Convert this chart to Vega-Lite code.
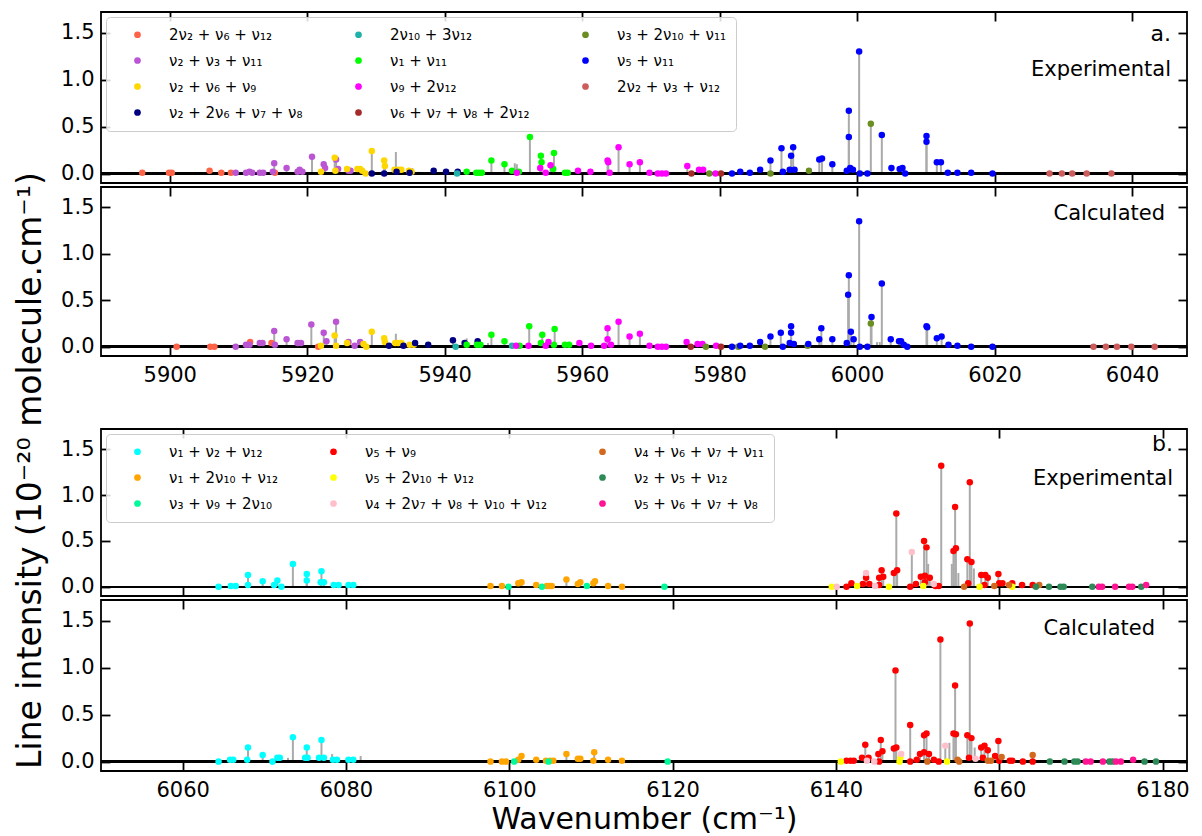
{
  "$schema": "https://vega.github.io/schema/vega-lite/v6.json",
  "background": "white",
  "padding": {"left": 14, "top": 10, "right": 7, "bottom": 2},
  "title": {
    "text": "Line intensity (10⁻²⁰ molecule.cm⁻¹)",
    "orient": "left",
    "anchor": "middle",
    "frame": "bounds",
    "font": "DejaVu Sans",
    "fontSize": 33,
    "fontWeight": "normal",
    "color": "black",
    "offset": 12,
    "dx": -48
  },
  "datasets": {
    "bands": [
      {"b": "a1", "label": "2ν₂ + ν₆ + ν₁₂"},
      {"b": "a2", "label": "ν₂ + ν₃ + ν₁₁"},
      {"b": "a3", "label": "ν₂ + ν₆ + ν₉"},
      {"b": "a4", "label": "ν₂ + 2ν₆ + ν₇ + ν₈"},
      {"b": "a5", "label": "2ν₁₀ + 3ν₁₂"},
      {"b": "a6", "label": "ν₁ + ν₁₁"},
      {"b": "a7", "label": "ν₉ + 2ν₁₂"},
      {"b": "a8", "label": "ν₆ + ν₇ + ν₈ + 2ν₁₂"},
      {"b": "a9", "label": "ν₃ + 2ν₁₀ + ν₁₁"},
      {"b": "a10", "label": "ν₅ + ν₁₁"},
      {"b": "a11", "label": "2ν₂ + ν₃ + ν₁₂"},
      {"b": "b1", "label": "ν₁ + ν₂ + ν₁₂"},
      {"b": "b2", "label": "ν₁ + 2ν₁₀ + ν₁₂"},
      {"b": "b3", "label": "ν₃ + ν₉ + 2ν₁₀"},
      {"b": "b4", "label": "ν₅ + ν₉"},
      {"b": "b5", "label": "ν₅ + 2ν₁₀ + ν₁₂"},
      {"b": "b6", "label": "ν₄ + 2ν₇ + ν₈ + ν₁₀ + ν₁₂"},
      {"b": "b7", "label": "ν₄ + ν₆ + ν₇ + ν₁₁"},
      {"b": "b8", "label": "ν₂ + ν₅ + ν₁₂"},
      {"b": "b9", "label": "ν₅ + ν₆ + ν₇ + ν₈"},
      {"b": "x", "label": "unassigned"}
    ],
    "lines": [
      {"p": "ae", "b": "x", "x": 5932.9, "y": 0.23},
      {"p": "ae", "b": "x", "x": 5935.3, "y": 0.06},
      {"p": "ae", "b": "x", "x": 5936.2, "y": 0.02},
      {"p": "ae", "b": "x", "x": 5950.2, "y": 0.11},
      {"p": "ae", "b": "x", "x": 5950.5, "y": 0.1},
      {"p": "ae", "b": "a1", "x": 5896.0, "y": 0.01},
      {"p": "ae", "b": "a1", "x": 5899.9, "y": 0.01},
      {"p": "ae", "b": "a1", "x": 5900.3, "y": 0.01},
      {"p": "ae", "b": "a1", "x": 5905.8, "y": 0.03},
      {"p": "ae", "b": "a1", "x": 5907.5, "y": 0.01},
      {"p": "ae", "b": "a1", "x": 5908.9, "y": 0.01},
      {"p": "ae", "b": "a1", "x": 5915.3, "y": 0.01},
      {"p": "ae", "b": "a2", "x": 5909.6, "y": 0.01},
      {"p": "ae", "b": "a2", "x": 5911.1, "y": 0.01},
      {"p": "ae", "b": "a2", "x": 5911.6, "y": 0.02},
      {"p": "ae", "b": "a2", "x": 5912.0, "y": 0.01},
      {"p": "ae", "b": "a2", "x": 5913.1, "y": 0.01},
      {"p": "ae", "b": "a2", "x": 5913.6, "y": 0.01},
      {"p": "ae", "b": "a2", "x": 5915.2, "y": 0.11},
      {"p": "ae", "b": "a2", "x": 5915.0, "y": 0.02},
      {"p": "ae", "b": "a2", "x": 5917.0, "y": 0.06},
      {"p": "ae", "b": "a2", "x": 5918.6, "y": 0.02},
      {"p": "ae", "b": "a2", "x": 5918.9, "y": 0.04},
      {"p": "ae", "b": "a2", "x": 5919.3, "y": 0.02},
      {"p": "ae", "b": "a2", "x": 5920.7, "y": 0.18},
      {"p": "ae", "b": "a2", "x": 5922.4, "y": 0.1},
      {"p": "ae", "b": "a2", "x": 5922.6, "y": 0.06},
      {"p": "ae", "b": "a2", "x": 5924.2, "y": 0.15},
      {"p": "ae", "b": "a2", "x": 5924.5, "y": 0.05},
      {"p": "ae", "b": "a2", "x": 5926.0, "y": 0.03},
      {"p": "ae", "b": "a2", "x": 5926.3, "y": 0.03},
      {"p": "ae", "b": "a3", "x": 5922.0, "y": 0.02},
      {"p": "ae", "b": "a3", "x": 5924.0, "y": 0.17},
      {"p": "ae", "b": "a3", "x": 5924.1, "y": 0.03},
      {"p": "ae", "b": "a3", "x": 5925.8, "y": 0.05},
      {"p": "ae", "b": "a3", "x": 5927.3, "y": 0.05},
      {"p": "ae", "b": "a3", "x": 5927.7, "y": 0.05},
      {"p": "ae", "b": "a3", "x": 5928.0, "y": 0.03},
      {"p": "ae", "b": "a3", "x": 5928.5, "y": 0.0},
      {"p": "ae", "b": "a3", "x": 5929.4, "y": 0.24},
      {"p": "ae", "b": "a3", "x": 5931.2, "y": 0.14},
      {"p": "ae", "b": "a3", "x": 5931.3, "y": 0.08},
      {"p": "ae", "b": "a3", "x": 5932.7, "y": 0.04},
      {"p": "ae", "b": "a3", "x": 5933.3, "y": 0.04},
      {"p": "ae", "b": "a3", "x": 5933.7, "y": 0.04},
      {"p": "ae", "b": "a3", "x": 5934.8, "y": 0.03},
      {"p": "ae", "b": "a3", "x": 5935.2, "y": 0.02},
      {"p": "ae", "b": "a4", "x": 5929.4, "y": 0.0},
      {"p": "ae", "b": "a4", "x": 5931.2, "y": 0.0},
      {"p": "ae", "b": "a4", "x": 5933.0, "y": 0.02},
      {"p": "ae", "b": "a4", "x": 5934.9, "y": 0.01},
      {"p": "ae", "b": "a4", "x": 5938.4, "y": 0.03},
      {"p": "ae", "b": "a4", "x": 5940.2, "y": 0.02},
      {"p": "ae", "b": "a4", "x": 5941.9, "y": 0.02},
      {"p": "ae", "b": "a5", "x": 5941.8, "y": 0.0},
      {"p": "ae", "b": "a6", "x": 5943.2, "y": 0.02},
      {"p": "ae", "b": "a6", "x": 5944.6, "y": 0.01},
      {"p": "ae", "b": "a6", "x": 5945.0, "y": 0.01},
      {"p": "ae", "b": "a6", "x": 5945.4, "y": 0.01},
      {"p": "ae", "b": "a6", "x": 5946.8, "y": 0.14},
      {"p": "ae", "b": "a6", "x": 5948.7, "y": 0.1},
      {"p": "ae", "b": "a6", "x": 5949.8, "y": 0.03},
      {"p": "ae", "b": "a6", "x": 5950.8, "y": 0.02},
      {"p": "ae", "b": "a6", "x": 5952.4, "y": 0.39},
      {"p": "ae", "b": "a6", "x": 5954.0, "y": 0.19},
      {"p": "ae", "b": "a6", "x": 5954.1, "y": 0.12},
      {"p": "ae", "b": "a6", "x": 5955.9, "y": 0.22},
      {"p": "ae", "b": "a6", "x": 5955.8, "y": 0.05},
      {"p": "ae", "b": "a6", "x": 5957.5, "y": 0.01},
      {"p": "ae", "b": "a6", "x": 5957.9, "y": 0.01},
      {"p": "ae", "b": "a7", "x": 5950.5, "y": 0.01},
      {"p": "ae", "b": "a7", "x": 5953.9, "y": 0.06},
      {"p": "ae", "b": "a7", "x": 5954.7, "y": 0.01},
      {"p": "ae", "b": "a7", "x": 5955.4, "y": 0.09},
      {"p": "ae", "b": "a7", "x": 5959.4, "y": 0.03},
      {"p": "ae", "b": "a7", "x": 5961.2, "y": 0.02},
      {"p": "ae", "b": "a7", "x": 5963.7, "y": 0.14},
      {"p": "ae", "b": "a7", "x": 5963.8, "y": 0.12},
      {"p": "ae", "b": "a7", "x": 5964.0, "y": 0.01},
      {"p": "ae", "b": "a7", "x": 5965.3, "y": 0.28},
      {"p": "ae", "b": "a7", "x": 5966.9, "y": 0.1},
      {"p": "ae", "b": "a7", "x": 5968.4, "y": 0.12},
      {"p": "ae", "b": "a7", "x": 5969.8, "y": 0.01},
      {"p": "ae", "b": "a7", "x": 5971.0, "y": 0.0},
      {"p": "ae", "b": "a7", "x": 5971.6, "y": 0.0},
      {"p": "ae", "b": "a7", "x": 5972.2, "y": 0.0},
      {"p": "ae", "b": "a7", "x": 5975.3, "y": 0.08},
      {"p": "ae", "b": "a7", "x": 5977.0, "y": 0.04},
      {"p": "ae", "b": "a7", "x": 5977.6, "y": 0.04},
      {"p": "ae", "b": "a7", "x": 5979.4, "y": 0.0},
      {"p": "ae", "b": "a8", "x": 5975.9, "y": 0.0},
      {"p": "ae", "b": "a8", "x": 5980.2, "y": 0.0},
      {"p": "ae", "b": "a9", "x": 5978.5, "y": 0.0},
      {"p": "ae", "b": "a9", "x": 5987.4, "y": 0.0},
      {"p": "ae", "b": "a9", "x": 5993.0, "y": 0.03},
      {"p": "ae", "b": "a9", "x": 6002.0, "y": 0.53},
      {"p": "ae", "b": "a10", "x": 5981.8, "y": 0.0},
      {"p": "ae", "b": "a10", "x": 5983.0, "y": 0.02},
      {"p": "ae", "b": "a10", "x": 5984.4, "y": 0.01},
      {"p": "ae", "b": "a10", "x": 5985.9, "y": 0.04},
      {"p": "ae", "b": "a10", "x": 5987.4, "y": 0.14},
      {"p": "ae", "b": "a10", "x": 5989.0, "y": 0.27},
      {"p": "ae", "b": "a10", "x": 5989.2, "y": 0.02},
      {"p": "ae", "b": "a10", "x": 5990.4, "y": 0.19},
      {"p": "ae", "b": "a10", "x": 5990.7, "y": 0.28},
      {"p": "ae", "b": "a10", "x": 5990.2, "y": 0.04},
      {"p": "ae", "b": "a10", "x": 5990.9, "y": 0.04},
      {"p": "ae", "b": "a10", "x": 5994.5, "y": 0.15},
      {"p": "ae", "b": "a10", "x": 5994.9, "y": 0.16},
      {"p": "ae", "b": "a10", "x": 5996.4, "y": 0.1},
      {"p": "ae", "b": "a10", "x": 5998.5, "y": 0.03},
      {"p": "ae", "b": "a10", "x": 5998.8, "y": 0.67},
      {"p": "ae", "b": "a10", "x": 5998.8, "y": 0.39},
      {"p": "ae", "b": "a10", "x": 5999.0, "y": 0.06},
      {"p": "ae", "b": "a10", "x": 5999.4, "y": 0.04},
      {"p": "ae", "b": "a10", "x": 6000.3, "y": 1.3},
      {"p": "ae", "b": "a10", "x": 6000.4, "y": 0.0},
      {"p": "ae", "b": "a10", "x": 6001.5, "y": 0.0},
      {"p": "ae", "b": "a10", "x": 6003.6, "y": 0.41},
      {"p": "ae", "b": "a10", "x": 6005.0, "y": 0.06},
      {"p": "ae", "b": "a10", "x": 6006.2, "y": 0.05},
      {"p": "ae", "b": "a10", "x": 6006.6, "y": 0.06},
      {"p": "ae", "b": "a10", "x": 6007.0, "y": 0.0},
      {"p": "ae", "b": "a10", "x": 6010.1, "y": 0.4},
      {"p": "ae", "b": "a10", "x": 6010.1, "y": 0.34},
      {"p": "ae", "b": "a10", "x": 6011.6, "y": 0.12},
      {"p": "ae", "b": "a10", "x": 6012.2, "y": 0.12},
      {"p": "ae", "b": "a10", "x": 6013.2, "y": 0.01},
      {"p": "ae", "b": "a10", "x": 6014.6, "y": 0.01},
      {"p": "ae", "b": "a10", "x": 6016.6, "y": 0.01},
      {"p": "ae", "b": "a10", "x": 6019.7, "y": 0.0},
      {"p": "ae", "b": "a11", "x": 6028.0, "y": 0.0},
      {"p": "ae", "b": "a11", "x": 6029.8, "y": 0.0},
      {"p": "ae", "b": "a11", "x": 6031.3, "y": 0.0},
      {"p": "ae", "b": "a11", "x": 6033.4, "y": 0.0},
      {"p": "ae", "b": "a11", "x": 6037.0, "y": 0.0},

      {"p": "ac", "b": "x", "x": 5932.9, "y": 0.14},
      {"p": "ac", "b": "x", "x": 5943.2, "y": 0.09},
      {"p": "ac", "b": "x", "x": 5946.3, "y": 0.04},
      {"p": "ac", "b": "x", "x": 6002.9, "y": 0.05},
      {"p": "ac", "b": "x", "x": 6003.3, "y": 0.05},
      {"p": "ac", "b": "a1", "x": 5901.0, "y": 0.0},
      {"p": "ac", "b": "a1", "x": 5905.9, "y": 0.0},
      {"p": "ac", "b": "a1", "x": 5906.5, "y": 0.0},
      {"p": "ac", "b": "a1", "x": 5911.7, "y": 0.05},
      {"p": "ac", "b": "a1", "x": 5914.8, "y": 0.04},
      {"p": "ac", "b": "a1", "x": 5921.6, "y": 0.0},
      {"p": "ac", "b": "a2", "x": 5909.6, "y": 0.0},
      {"p": "ac", "b": "a2", "x": 5911.1, "y": 0.02},
      {"p": "ac", "b": "a2", "x": 5911.6, "y": 0.02},
      {"p": "ac", "b": "a2", "x": 5913.1, "y": 0.04},
      {"p": "ac", "b": "a2", "x": 5913.5, "y": 0.04},
      {"p": "ac", "b": "a2", "x": 5915.2, "y": 0.17},
      {"p": "ac", "b": "a2", "x": 5915.3, "y": 0.02},
      {"p": "ac", "b": "a2", "x": 5917.0, "y": 0.08},
      {"p": "ac", "b": "a2", "x": 5918.6, "y": 0.04},
      {"p": "ac", "b": "a2", "x": 5919.1, "y": 0.04},
      {"p": "ac", "b": "a2", "x": 5920.6, "y": 0.24},
      {"p": "ac", "b": "a2", "x": 5922.4, "y": 0.15},
      {"p": "ac", "b": "a2", "x": 5922.8, "y": 0.06},
      {"p": "ac", "b": "a2", "x": 5924.2, "y": 0.27},
      {"p": "ac", "b": "a2", "x": 5926.0, "y": 0.05},
      {"p": "ac", "b": "a2", "x": 5926.9, "y": 0.01},
      {"p": "ac", "b": "a2", "x": 5927.7, "y": 0.05},
      {"p": "ac", "b": "a3", "x": 5922.0, "y": 0.01},
      {"p": "ac", "b": "a3", "x": 5924.0, "y": 0.12},
      {"p": "ac", "b": "a3", "x": 5924.2, "y": 0.01},
      {"p": "ac", "b": "a3", "x": 5925.8, "y": 0.04},
      {"p": "ac", "b": "a3", "x": 5928.2, "y": 0.03},
      {"p": "ac", "b": "a3", "x": 5928.6, "y": 0.0},
      {"p": "ac", "b": "a3", "x": 5929.4, "y": 0.16},
      {"p": "ac", "b": "a3", "x": 5931.2, "y": 0.09},
      {"p": "ac", "b": "a3", "x": 5931.3, "y": 0.05},
      {"p": "ac", "b": "a3", "x": 5932.8, "y": 0.04},
      {"p": "ac", "b": "a3", "x": 5933.2, "y": 0.04},
      {"p": "ac", "b": "a3", "x": 5933.7, "y": 0.04},
      {"p": "ac", "b": "a3", "x": 5934.9, "y": 0.02},
      {"p": "ac", "b": "a3", "x": 5935.5, "y": 0.02},
      {"p": "ac", "b": "a4", "x": 5931.9, "y": 0.01},
      {"p": "ac", "b": "a4", "x": 5934.0, "y": 0.01},
      {"p": "ac", "b": "a4", "x": 5935.7, "y": 0.04},
      {"p": "ac", "b": "a4", "x": 5937.6, "y": 0.02},
      {"p": "ac", "b": "a4", "x": 5941.2, "y": 0.07},
      {"p": "ac", "b": "a4", "x": 5942.9, "y": 0.04},
      {"p": "ac", "b": "a4", "x": 5944.8, "y": 0.06},
      {"p": "ac", "b": "a5", "x": 5941.6, "y": 0.0},
      {"p": "ac", "b": "a5", "x": 5949.8, "y": 0.01},
      {"p": "ac", "b": "a6", "x": 5943.2, "y": 0.02},
      {"p": "ac", "b": "a6", "x": 5944.7, "y": 0.02},
      {"p": "ac", "b": "a6", "x": 5945.2, "y": 0.02},
      {"p": "ac", "b": "a6", "x": 5946.8, "y": 0.13},
      {"p": "ac", "b": "a6", "x": 5948.7, "y": 0.06},
      {"p": "ac", "b": "a6", "x": 5950.9, "y": 0.01},
      {"p": "ac", "b": "a6", "x": 5952.3, "y": 0.22},
      {"p": "ac", "b": "a6", "x": 5954.2, "y": 0.13},
      {"p": "ac", "b": "a6", "x": 5954.0, "y": 0.04},
      {"p": "ac", "b": "a6", "x": 5956.0, "y": 0.19},
      {"p": "ac", "b": "a6", "x": 5955.9, "y": 0.02},
      {"p": "ac", "b": "a6", "x": 5957.5, "y": 0.02},
      {"p": "ac", "b": "a6", "x": 5958.1, "y": 0.02},
      {"p": "ac", "b": "a7", "x": 5950.4, "y": 0.01},
      {"p": "ac", "b": "a7", "x": 5952.2, "y": 0.01},
      {"p": "ac", "b": "a7", "x": 5954.7, "y": 0.01},
      {"p": "ac", "b": "a7", "x": 5955.1, "y": 0.05},
      {"p": "ac", "b": "a7", "x": 5959.6, "y": 0.04},
      {"p": "ac", "b": "a7", "x": 5961.3, "y": 0.01},
      {"p": "ac", "b": "a7", "x": 5963.2, "y": 0.01},
      {"p": "ac", "b": "a7", "x": 5963.7, "y": 0.2},
      {"p": "ac", "b": "a7", "x": 5963.7, "y": 0.08},
      {"p": "ac", "b": "a7", "x": 5964.2, "y": 0.02},
      {"p": "ac", "b": "a7", "x": 5965.3, "y": 0.27},
      {"p": "ac", "b": "a7", "x": 5966.9, "y": 0.11},
      {"p": "ac", "b": "a7", "x": 5968.4, "y": 0.14},
      {"p": "ac", "b": "a7", "x": 5969.8, "y": 0.01},
      {"p": "ac", "b": "a7", "x": 5971.0, "y": 0.0},
      {"p": "ac", "b": "a7", "x": 5971.6, "y": 0.0},
      {"p": "ac", "b": "a7", "x": 5972.2, "y": 0.0},
      {"p": "ac", "b": "a7", "x": 5975.2, "y": 0.05},
      {"p": "ac", "b": "a7", "x": 5976.8, "y": 0.03},
      {"p": "ac", "b": "a7", "x": 5977.5, "y": 0.03},
      {"p": "ac", "b": "a7", "x": 5979.5, "y": 0.01},
      {"p": "ac", "b": "a8", "x": 5975.8, "y": 0.0},
      {"p": "ac", "b": "a8", "x": 5980.2, "y": 0.0},
      {"p": "ac", "b": "a9", "x": 5978.0, "y": 0.0},
      {"p": "ac", "b": "a9", "x": 5982.7, "y": 0.0},
      {"p": "ac", "b": "a9", "x": 5986.6, "y": 0.0},
      {"p": "ac", "b": "a9", "x": 5992.8, "y": 0.01},
      {"p": "ac", "b": "a9", "x": 6002.0, "y": 0.25},
      {"p": "ac", "b": "a10", "x": 5981.8, "y": 0.0},
      {"p": "ac", "b": "a10", "x": 5983.0, "y": 0.01},
      {"p": "ac", "b": "a10", "x": 5984.4, "y": 0.01},
      {"p": "ac", "b": "a10", "x": 5985.9, "y": 0.05},
      {"p": "ac", "b": "a10", "x": 5987.4, "y": 0.11},
      {"p": "ac", "b": "a10", "x": 5988.9, "y": 0.15},
      {"p": "ac", "b": "a10", "x": 5989.2, "y": 0.0},
      {"p": "ac", "b": "a10", "x": 5990.4, "y": 0.22},
      {"p": "ac", "b": "a10", "x": 5990.4, "y": 0.15},
      {"p": "ac", "b": "a10", "x": 5990.2, "y": 0.04},
      {"p": "ac", "b": "a10", "x": 5990.8, "y": 0.03},
      {"p": "ac", "b": "a10", "x": 5992.9, "y": 0.03},
      {"p": "ac", "b": "a10", "x": 5994.5, "y": 0.08},
      {"p": "ac", "b": "a10", "x": 5994.8, "y": 0.2},
      {"p": "ac", "b": "a10", "x": 5996.4, "y": 0.08},
      {"p": "ac", "b": "a10", "x": 5998.5, "y": 0.04},
      {"p": "ac", "b": "a10", "x": 5998.8, "y": 0.77},
      {"p": "ac", "b": "a10", "x": 5998.7, "y": 0.56},
      {"p": "ac", "b": "a10", "x": 5999.1, "y": 0.16},
      {"p": "ac", "b": "a10", "x": 5999.5, "y": 0.08},
      {"p": "ac", "b": "a10", "x": 6000.3, "y": 1.35},
      {"p": "ac", "b": "a10", "x": 6000.4, "y": 0.0},
      {"p": "ac", "b": "a10", "x": 6001.5, "y": 0.0},
      {"p": "ac", "b": "a10", "x": 6002.1, "y": 0.32},
      {"p": "ac", "b": "a10", "x": 6003.6, "y": 0.68},
      {"p": "ac", "b": "a10", "x": 6004.9, "y": 0.08},
      {"p": "ac", "b": "a10", "x": 6006.1, "y": 0.06},
      {"p": "ac", "b": "a10", "x": 6006.4, "y": 0.06},
      {"p": "ac", "b": "a10", "x": 6006.8, "y": 0.02},
      {"p": "ac", "b": "a10", "x": 6007.3, "y": 0.0},
      {"p": "ac", "b": "a10", "x": 6010.1, "y": 0.22},
      {"p": "ac", "b": "a10", "x": 6010.2, "y": 0.21},
      {"p": "ac", "b": "a10", "x": 6011.6, "y": 0.09},
      {"p": "ac", "b": "a10", "x": 6012.3, "y": 0.11},
      {"p": "ac", "b": "a10", "x": 6013.3, "y": 0.02},
      {"p": "ac", "b": "a10", "x": 6014.6, "y": 0.01},
      {"p": "ac", "b": "a10", "x": 6016.6, "y": 0.0},
      {"p": "ac", "b": "a10", "x": 6019.7, "y": 0.0},
      {"p": "ac", "b": "a11", "x": 6034.4, "y": 0.0},
      {"p": "ac", "b": "a11", "x": 6036.2, "y": 0.0},
      {"p": "ac", "b": "a11", "x": 6037.8, "y": 0.0},
      {"p": "ac", "b": "a11", "x": 6039.9, "y": 0.0},
      {"p": "ac", "b": "a11", "x": 6043.3, "y": 0.0},

      {"p": "be", "b": "x", "x": 6151.3, "y": 0.25},
      {"p": "be", "b": "x", "x": 6154.2, "y": 0.25},
      {"p": "be", "b": "x", "x": 6155.0, "y": 0.15},
      {"p": "be", "b": "x", "x": 6156.9, "y": 0.2},
      {"p": "be", "b": "b1", "x": 6064.4, "y": 0.0},
      {"p": "be", "b": "b1", "x": 6065.9, "y": 0.01},
      {"p": "be", "b": "b1", "x": 6066.5, "y": 0.01},
      {"p": "be", "b": "b1", "x": 6068.0, "y": 0.13},
      {"p": "be", "b": "b1", "x": 6068.0, "y": 0.02},
      {"p": "be", "b": "b1", "x": 6069.8, "y": 0.06},
      {"p": "be", "b": "b1", "x": 6071.2, "y": 0.02},
      {"p": "be", "b": "b1", "x": 6071.6, "y": 0.07},
      {"p": "be", "b": "b1", "x": 6072.1, "y": 0.0},
      {"p": "be", "b": "b1", "x": 6073.5, "y": 0.25},
      {"p": "be", "b": "b1", "x": 6075.2, "y": 0.14},
      {"p": "be", "b": "b1", "x": 6075.2, "y": 0.07},
      {"p": "be", "b": "b1", "x": 6077.0, "y": 0.17},
      {"p": "be", "b": "b1", "x": 6076.9, "y": 0.05},
      {"p": "be", "b": "b1", "x": 6077.3, "y": 0.05},
      {"p": "be", "b": "b1", "x": 6078.5, "y": 0.02},
      {"p": "be", "b": "b1", "x": 6079.1, "y": 0.02},
      {"p": "be", "b": "b1", "x": 6080.3, "y": 0.02},
      {"p": "be", "b": "b1", "x": 6080.9, "y": 0.02},
      {"p": "be", "b": "b2", "x": 6097.7, "y": 0.01},
      {"p": "be", "b": "b2", "x": 6099.1, "y": 0.01},
      {"p": "be", "b": "b2", "x": 6101.1, "y": 0.04},
      {"p": "be", "b": "b2", "x": 6101.5, "y": 0.05},
      {"p": "be", "b": "b2", "x": 6103.3, "y": 0.02},
      {"p": "be", "b": "b2", "x": 6104.6, "y": 0.01},
      {"p": "be", "b": "b2", "x": 6104.9, "y": 0.01},
      {"p": "be", "b": "b2", "x": 6105.2, "y": 0.01},
      {"p": "be", "b": "b2", "x": 6107.0, "y": 0.08},
      {"p": "be", "b": "b2", "x": 6108.4, "y": 0.03},
      {"p": "be", "b": "b2", "x": 6108.7, "y": 0.05},
      {"p": "be", "b": "b2", "x": 6110.3, "y": 0.04},
      {"p": "be", "b": "b2", "x": 6110.5, "y": 0.06},
      {"p": "be", "b": "b2", "x": 6112.1, "y": 0.01},
      {"p": "be", "b": "b2", "x": 6113.8, "y": 0.0},
      {"p": "be", "b": "b3", "x": 6099.9, "y": 0.0},
      {"p": "be", "b": "b3", "x": 6104.0, "y": 0.0},
      {"p": "be", "b": "b3", "x": 6109.5, "y": 0.01},
      {"p": "be", "b": "b3", "x": 6119.0, "y": 0.0},
      {"p": "be", "b": "b4", "x": 6141.3, "y": 0.0},
      {"p": "be", "b": "b4", "x": 6141.9, "y": 0.04},
      {"p": "be", "b": "b4", "x": 6143.3, "y": 0.03},
      {"p": "be", "b": "b4", "x": 6143.7, "y": 0.1},
      {"p": "be", "b": "b4", "x": 6144.1, "y": 0.03},
      {"p": "be", "b": "b4", "x": 6145.3, "y": 0.02},
      {"p": "be", "b": "b4", "x": 6145.3, "y": 0.1},
      {"p": "be", "b": "b4", "x": 6145.6, "y": 0.18},
      {"p": "be", "b": "b4", "x": 6145.8, "y": 0.11},
      {"p": "be", "b": "b4", "x": 6147.1, "y": 0.15},
      {"p": "be", "b": "b4", "x": 6147.5, "y": 0.18},
      {"p": "be", "b": "b4", "x": 6147.4, "y": 0.8},
      {"p": "be", "b": "b4", "x": 6149.1, "y": 0.0},
      {"p": "be", "b": "b4", "x": 6149.8, "y": 0.03},
      {"p": "be", "b": "b4", "x": 6150.4, "y": 0.11},
      {"p": "be", "b": "b4", "x": 6150.8, "y": 0.5},
      {"p": "be", "b": "b4", "x": 6151.1, "y": 0.43},
      {"p": "be", "b": "b4", "x": 6150.9, "y": 0.12},
      {"p": "be", "b": "b4", "x": 6150.9, "y": 0.05},
      {"p": "be", "b": "b4", "x": 6151.5, "y": 0.1},
      {"p": "be", "b": "b4", "x": 6152.2, "y": 0.01},
      {"p": "be", "b": "b4", "x": 6152.6, "y": 0.01},
      {"p": "be", "b": "b4", "x": 6152.9, "y": 1.32},
      {"p": "be", "b": "b4", "x": 6154.4, "y": 0.39},
      {"p": "be", "b": "b4", "x": 6154.7, "y": 0.42},
      {"p": "be", "b": "b4", "x": 6154.6, "y": 0.87},
      {"p": "be", "b": "b4", "x": 6156.1, "y": 0.3},
      {"p": "be", "b": "b4", "x": 6156.6, "y": 0.27},
      {"p": "be", "b": "b4", "x": 6156.4, "y": 1.14},
      {"p": "be", "b": "b4", "x": 6156.2, "y": 0.04},
      {"p": "be", "b": "b4", "x": 6157.8, "y": 0.13},
      {"p": "be", "b": "b4", "x": 6158.3, "y": 0.13},
      {"p": "be", "b": "b4", "x": 6158.2, "y": 0.02},
      {"p": "be", "b": "b4", "x": 6158.6, "y": 0.1},
      {"p": "be", "b": "b4", "x": 6159.9, "y": 0.14},
      {"p": "be", "b": "b4", "x": 6160.0, "y": 0.04},
      {"p": "be", "b": "b4", "x": 6160.4, "y": 0.04},
      {"p": "be", "b": "b4", "x": 6161.6, "y": 0.04},
      {"p": "be", "b": "b4", "x": 6162.8, "y": 0.02},
      {"p": "be", "b": "b4", "x": 6164.1, "y": 0.02},
      {"p": "be", "b": "b5", "x": 6139.5, "y": 0.0},
      {"p": "be", "b": "b5", "x": 6142.6, "y": 0.01},
      {"p": "be", "b": "b5", "x": 6146.5, "y": 0.0},
      {"p": "be", "b": "b5", "x": 6150.7, "y": 0.01},
      {"p": "be", "b": "b5", "x": 6157.6, "y": 0.0},
      {"p": "be", "b": "b5", "x": 6161.6, "y": 0.0},
      {"p": "be", "b": "b6", "x": 6140.1, "y": 0.0},
      {"p": "be", "b": "b6", "x": 6143.7, "y": 0.15},
      {"p": "be", "b": "b6", "x": 6144.8, "y": 0.01},
      {"p": "be", "b": "b6", "x": 6149.3, "y": 0.38},
      {"p": "be", "b": "b6", "x": 6152.0, "y": 0.03},
      {"p": "be", "b": "b7", "x": 6155.7, "y": 0.0},
      {"p": "be", "b": "b7", "x": 6159.4, "y": 0.01},
      {"p": "be", "b": "b7", "x": 6161.2, "y": 0.02},
      {"p": "be", "b": "b7", "x": 6164.9, "y": 0.02},
      {"p": "be", "b": "b8", "x": 6164.5, "y": 0.0},
      {"p": "be", "b": "b8", "x": 6166.1, "y": 0.0},
      {"p": "be", "b": "b8", "x": 6167.5, "y": 0.0},
      {"p": "be", "b": "b8", "x": 6167.9, "y": 0.0},
      {"p": "be", "b": "b8", "x": 6171.4, "y": 0.0},
      {"p": "be", "b": "b8", "x": 6177.4, "y": 0.0},
      {"p": "be", "b": "b9", "x": 6172.2, "y": 0.0},
      {"p": "be", "b": "b9", "x": 6172.6, "y": 0.0},
      {"p": "be", "b": "b9", "x": 6174.2, "y": 0.0},
      {"p": "be", "b": "b9", "x": 6175.9, "y": 0.0},
      {"p": "be", "b": "b9", "x": 6176.3, "y": 0.0},
      {"p": "be", "b": "b9", "x": 6178.0, "y": 0.02},

      {"p": "bc", "b": "x", "x": 6072.9, "y": 0.04},
      {"p": "bc", "b": "x", "x": 6078.3, "y": 0.08},
      {"p": "bc", "b": "x", "x": 6081.8, "y": 0.06},
      {"p": "bc", "b": "x", "x": 6083.5, "y": 0.01},
      {"p": "bc", "b": "x", "x": 6085.0, "y": 0.01},
      {"p": "bc", "b": "x", "x": 6153.9, "y": 0.2},
      {"p": "bc", "b": "x", "x": 6157.0, "y": 0.15},
      {"p": "bc", "b": "b1", "x": 6064.4, "y": 0.0},
      {"p": "bc", "b": "b1", "x": 6065.8, "y": 0.02},
      {"p": "bc", "b": "b1", "x": 6066.2, "y": 0.02},
      {"p": "bc", "b": "b1", "x": 6067.9, "y": 0.02},
      {"p": "bc", "b": "b1", "x": 6068.0, "y": 0.15},
      {"p": "bc", "b": "b1", "x": 6069.8, "y": 0.07},
      {"p": "bc", "b": "b1", "x": 6071.0, "y": 0.0},
      {"p": "bc", "b": "b1", "x": 6071.6, "y": 0.04},
      {"p": "bc", "b": "b1", "x": 6071.9, "y": 0.04},
      {"p": "bc", "b": "b1", "x": 6073.5, "y": 0.26},
      {"p": "bc", "b": "b1", "x": 6075.0, "y": 0.04},
      {"p": "bc", "b": "b1", "x": 6075.3, "y": 0.04},
      {"p": "bc", "b": "b1", "x": 6075.2, "y": 0.15},
      {"p": "bc", "b": "b1", "x": 6076.7, "y": 0.04},
      {"p": "bc", "b": "b1", "x": 6077.3, "y": 0.04},
      {"p": "bc", "b": "b1", "x": 6077.0, "y": 0.23},
      {"p": "bc", "b": "b1", "x": 6078.4, "y": 0.02},
      {"p": "bc", "b": "b1", "x": 6078.9, "y": 0.02},
      {"p": "bc", "b": "b1", "x": 6080.3, "y": 0.02},
      {"p": "bc", "b": "b1", "x": 6080.9, "y": 0.02},
      {"p": "bc", "b": "b2", "x": 6097.7, "y": 0.0},
      {"p": "bc", "b": "b2", "x": 6099.1, "y": 0.0},
      {"p": "bc", "b": "b2", "x": 6099.6, "y": 0.0},
      {"p": "bc", "b": "b2", "x": 6101.1, "y": 0.02},
      {"p": "bc", "b": "b2", "x": 6101.5, "y": 0.06},
      {"p": "bc", "b": "b2", "x": 6103.3, "y": 0.02},
      {"p": "bc", "b": "b2", "x": 6104.5, "y": 0.01},
      {"p": "bc", "b": "b2", "x": 6105.0, "y": 0.01},
      {"p": "bc", "b": "b2", "x": 6105.4, "y": 0.01},
      {"p": "bc", "b": "b2", "x": 6107.0, "y": 0.08},
      {"p": "bc", "b": "b2", "x": 6108.4, "y": 0.03},
      {"p": "bc", "b": "b2", "x": 6108.7, "y": 0.03},
      {"p": "bc", "b": "b2", "x": 6110.3, "y": 0.01},
      {"p": "bc", "b": "b2", "x": 6110.4, "y": 0.1},
      {"p": "bc", "b": "b2", "x": 6112.1, "y": 0.02},
      {"p": "bc", "b": "b2", "x": 6113.8, "y": 0.01},
      {"p": "bc", "b": "b3", "x": 6100.6, "y": 0.0},
      {"p": "bc", "b": "b3", "x": 6104.8, "y": 0.0},
      {"p": "bc", "b": "b3", "x": 6119.4, "y": 0.0},
      {"p": "bc", "b": "b4", "x": 6141.3, "y": 0.01},
      {"p": "bc", "b": "b4", "x": 6141.8, "y": 0.01},
      {"p": "bc", "b": "b4", "x": 6142.2, "y": 0.01},
      {"p": "bc", "b": "b4", "x": 6143.2, "y": 0.04},
      {"p": "bc", "b": "b4", "x": 6143.6, "y": 0.18},
      {"p": "bc", "b": "b4", "x": 6144.0, "y": 0.04},
      {"p": "bc", "b": "b4", "x": 6145.3, "y": 0.0},
      {"p": "bc", "b": "b4", "x": 6145.2, "y": 0.08},
      {"p": "bc", "b": "b4", "x": 6145.5, "y": 0.23},
      {"p": "bc", "b": "b4", "x": 6145.7, "y": 0.11},
      {"p": "bc", "b": "b4", "x": 6147.1, "y": 0.14},
      {"p": "bc", "b": "b4", "x": 6147.4, "y": 0.15},
      {"p": "bc", "b": "b4", "x": 6147.3, "y": 0.97},
      {"p": "bc", "b": "b4", "x": 6149.1, "y": 0.0},
      {"p": "bc", "b": "b4", "x": 6149.1, "y": 0.39},
      {"p": "bc", "b": "b4", "x": 6149.9, "y": 0.02},
      {"p": "bc", "b": "b4", "x": 6150.3, "y": 0.08},
      {"p": "bc", "b": "b4", "x": 6150.8, "y": 0.1},
      {"p": "bc", "b": "b4", "x": 6150.8, "y": 0.28},
      {"p": "bc", "b": "b4", "x": 6151.1, "y": 0.3},
      {"p": "bc", "b": "b4", "x": 6151.4, "y": 0.08},
      {"p": "bc", "b": "b4", "x": 6152.0, "y": 0.02},
      {"p": "bc", "b": "b4", "x": 6152.6, "y": 0.0},
      {"p": "bc", "b": "b4", "x": 6152.8, "y": 1.3},
      {"p": "bc", "b": "b4", "x": 6154.4, "y": 0.3},
      {"p": "bc", "b": "b4", "x": 6154.7, "y": 0.29},
      {"p": "bc", "b": "b4", "x": 6154.6, "y": 0.81},
      {"p": "bc", "b": "b4", "x": 6156.1, "y": 0.28},
      {"p": "bc", "b": "b4", "x": 6156.6, "y": 0.25},
      {"p": "bc", "b": "b4", "x": 6156.4, "y": 1.47},
      {"p": "bc", "b": "b4", "x": 6156.3, "y": 0.04},
      {"p": "bc", "b": "b4", "x": 6157.8, "y": 0.15},
      {"p": "bc", "b": "b4", "x": 6158.2, "y": 0.17},
      {"p": "bc", "b": "b4", "x": 6158.6, "y": 0.12},
      {"p": "bc", "b": "b4", "x": 6158.0, "y": 0.04},
      {"p": "bc", "b": "b4", "x": 6159.5, "y": 0.06},
      {"p": "bc", "b": "b4", "x": 6159.9, "y": 0.22},
      {"p": "bc", "b": "b4", "x": 6160.0, "y": 0.01},
      {"p": "bc", "b": "b4", "x": 6161.3, "y": 0.01},
      {"p": "bc", "b": "b4", "x": 6161.6, "y": 0.01},
      {"p": "bc", "b": "b4", "x": 6162.9, "y": 0.0},
      {"p": "bc", "b": "b4", "x": 6164.1, "y": 0.0},
      {"p": "bc", "b": "b5", "x": 6140.6, "y": 0.0},
      {"p": "bc", "b": "b5", "x": 6147.8, "y": 0.0},
      {"p": "bc", "b": "b5", "x": 6147.9, "y": 0.04},
      {"p": "bc", "b": "b5", "x": 6153.6, "y": 0.0},
      {"p": "bc", "b": "b6", "x": 6143.8, "y": 0.01},
      {"p": "bc", "b": "b6", "x": 6144.7, "y": 0.0},
      {"p": "bc", "b": "b6", "x": 6148.0, "y": 0.08},
      {"p": "bc", "b": "b6", "x": 6153.4, "y": 0.17},
      {"p": "bc", "b": "b6", "x": 6157.1, "y": 0.03},
      {"p": "bc", "b": "b7", "x": 6151.2, "y": 0.0},
      {"p": "bc", "b": "b7", "x": 6154.9, "y": 0.02},
      {"p": "bc", "b": "b7", "x": 6155.1, "y": 0.0},
      {"p": "bc", "b": "b7", "x": 6158.6, "y": 0.01},
      {"p": "bc", "b": "b7", "x": 6159.0, "y": 0.01},
      {"p": "bc", "b": "b7", "x": 6160.3, "y": 0.05},
      {"p": "bc", "b": "b7", "x": 6164.1, "y": 0.07},
      {"p": "bc", "b": "b8", "x": 6166.2, "y": 0.0},
      {"p": "bc", "b": "b8", "x": 6168.0, "y": 0.0},
      {"p": "bc", "b": "b8", "x": 6169.2, "y": 0.0},
      {"p": "bc", "b": "b8", "x": 6169.6, "y": 0.0},
      {"p": "bc", "b": "b8", "x": 6173.5, "y": 0.0},
      {"p": "bc", "b": "b8", "x": 6173.9, "y": 0.0},
      {"p": "bc", "b": "b8", "x": 6177.8, "y": 0.0},
      {"p": "bc", "b": "b8", "x": 6179.2, "y": 0.0},
      {"p": "bc", "b": "b9", "x": 6170.6, "y": 0.0},
      {"p": "bc", "b": "b9", "x": 6171.2, "y": 0.0},
      {"p": "bc", "b": "b9", "x": 6172.7, "y": 0.0},
      {"p": "bc", "b": "b9", "x": 6174.3, "y": 0.0},
      {"p": "bc", "b": "b9", "x": 6174.9, "y": 0.0},
      {"p": "bc", "b": "b9", "x": 6176.4, "y": 0.02}
    ]
  },
  "data": {"name": "lines"},
  "spacing": 41,
  "resolve": {"scale": {"x": "independent", "y": "independent", "color": "independent"}},
  "vconcat": [
    {
      "spacing": 0,
      "resolve": {"scale": {"x": "independent", "y": "independent", "color": "independent"}},
      "vconcat": [
        {
          "width": 1086,
          "height": 171,
          "title": {"text": "a.", "subtitle": "Experimental", "anchor": "end", "frame": "group", "offset": -70, "dx": -16, "fontSize": 22, "subtitleFontSize": 21, "subtitlePadding": 13},
          "transform": [
            {"filter": "datum.p == 'ae'"},
            {"lookup": "b", "from": {"data": {"name": "bands"}, "key": "b", "fields": ["label"]}}
          ],
          "resolve": {"axis": {"x": "independent", "y": "independent"}},
          "layer": [
            {
              "mark": {"type": "rule", "color": "#aaaaaa", "strokeWidth": 2},
              "encoding": {
                "x": {"field": "x", "type": "quantitative", "scale": {"domain": [5890, 6048], "nice": false, "zero": false}, "axis": {"orient": "bottom", "values": [5900, 5920, 5940, 5960, 5980, 6000, 6020, 6040], "labels": false, "title": null}},
                "y": {"field": "y", "type": "quantitative", "scale": {"domain": [-0.1, 1.72], "nice": false}, "axis": {"orient": "left", "values": [0, 0.5, 1, 1.5], "format": ".1f", "title": null}},
                "y2": {"datum": 0}
              }
            },
            {
              "mark": {"type": "rule", "color": "black", "strokeWidth": 1.8},
              "encoding": {"y": {"datum": 0, "type": "quantitative", "axis": null}}
            },
            {
              "transform": [{"filter": "datum.b != 'x'"}],
              "mark": {"type": "circle", "size": 42, "opacity": 1},
              "encoding": {
                "x": {"field": "x", "type": "quantitative", "axis": null},
                "y": {"field": "y", "type": "quantitative", "axis": null},
                "color": {
                  "field": "label", "type": "nominal",
                  "scale": {
                    "domain": ["2ν₂ + ν₆ + ν₁₂", "ν₂ + ν₃ + ν₁₁", "ν₂ + ν₆ + ν₉", "ν₂ + 2ν₆ + ν₇ + ν₈", "2ν₁₀ + 3ν₁₂", "ν₁ + ν₁₁", "ν₉ + 2ν₁₂", "ν₆ + ν₇ + ν₈ + 2ν₁₂", "ν₃ + 2ν₁₀ + ν₁₁", "ν₅ + ν₁₁", "2ν₂ + ν₃ + ν₁₂"],
                    "range": ["#ff6347", "#ba55d3", "#ffd700", "#000080", "#20b2aa", "#00ff00", "#ff00ff", "#a52a2a", "#6b8e23", "#0000ff", "#cd5c5c"]
                  },
                  "legend": {"orient": "top-left", "offset": 5, "columns": 3}
                }
              }
            },
            {
              "mark": {"type": "circle", "opacity": 0},
              "encoding": {
                "x": {"field": "x", "type": "quantitative", "axis": {"orient": "top", "values": [5900, 5920, 5940, 5960, 5980, 6000, 6020, 6040], "labels": false, "title": null}},
                "y": {"field": "y", "type": "quantitative", "axis": {"orient": "right", "values": [0, 0.5, 1, 1.5], "labels": false, "title": null}}
              }
            }
          ]
        },
        {
          "width": 1086,
          "height": 169,
          "title": {"text": "Calculated", "anchor": "end", "frame": "group", "offset": -38, "dx": -22, "fontSize": 21},
          "transform": [
            {"filter": "datum.p == 'ac'"},
            {"lookup": "b", "from": {"data": {"name": "bands"}, "key": "b", "fields": ["label"]}}
          ],
          "resolve": {"axis": {"x": "independent", "y": "independent"}},
          "layer": [
            {
              "mark": {"type": "rule", "color": "#aaaaaa", "strokeWidth": 2},
              "encoding": {
                "x": {"field": "x", "type": "quantitative", "scale": {"domain": [5890, 6048], "nice": false, "zero": false}, "axis": {"orient": "bottom", "values": [5900, 5920, 5940, 5960, 5980, 6000, 6020, 6040], "format": "d", "title": null}},
                "y": {"field": "y", "type": "quantitative", "scale": {"domain": [-0.1, 1.72], "nice": false}, "axis": {"orient": "left", "values": [0, 0.5, 1, 1.5], "format": ".1f", "title": null}},
                "y2": {"datum": 0}
              }
            },
            {
              "mark": {"type": "rule", "color": "black", "strokeWidth": 1.8},
              "encoding": {"y": {"datum": 0, "type": "quantitative", "axis": null}}
            },
            {
              "transform": [{"filter": "datum.b != 'x'"}],
              "mark": {"type": "circle", "size": 42, "opacity": 1},
              "encoding": {
                "x": {"field": "x", "type": "quantitative", "axis": null},
                "y": {"field": "y", "type": "quantitative", "axis": null},
                "color": {
                  "field": "label", "type": "nominal",
                  "scale": {
                    "domain": ["2ν₂ + ν₆ + ν₁₂", "ν₂ + ν₃ + ν₁₁", "ν₂ + ν₆ + ν₉", "ν₂ + 2ν₆ + ν₇ + ν₈", "2ν₁₀ + 3ν₁₂", "ν₁ + ν₁₁", "ν₉ + 2ν₁₂", "ν₆ + ν₇ + ν₈ + 2ν₁₂", "ν₃ + 2ν₁₀ + ν₁₁", "ν₅ + ν₁₁", "2ν₂ + ν₃ + ν₁₂"],
                    "range": ["#ff6347", "#ba55d3", "#ffd700", "#000080", "#20b2aa", "#00ff00", "#ff00ff", "#a52a2a", "#6b8e23", "#0000ff", "#cd5c5c"]
                  },
                  "legend": null
                }
              }
            },
            {
              "mark": {"type": "circle", "opacity": 0},
              "encoding": {
                "x": {"field": "x", "type": "quantitative", "axis": {"orient": "top", "values": [5900, 5920, 5940, 5960, 5980, 6000, 6020, 6040], "labels": false, "title": null}},
                "y": {"field": "y", "type": "quantitative", "axis": {"orient": "right", "values": [0, 0.5, 1, 1.5], "labels": false, "title": null}}
              }
            }
          ]
        }
      ]
    },
    {
      "spacing": 0,
      "resolve": {"scale": {"x": "independent", "y": "independent", "color": "independent"}},
      "vconcat": [
        {
          "width": 1086,
          "height": 167,
          "title": {"text": "b.", "subtitle": "Experimental", "anchor": "end", "frame": "group", "offset": -62, "dx": -14, "fontSize": 22, "subtitleFontSize": 21, "subtitlePadding": 12},
          "transform": [
            {"filter": "datum.p == 'be'"},
            {"lookup": "b", "from": {"data": {"name": "bands"}, "key": "b", "fields": ["label"]}}
          ],
          "resolve": {"axis": {"x": "independent", "y": "independent"}},
          "layer": [
            {
              "mark": {"type": "rule", "color": "#aaaaaa", "strokeWidth": 2},
              "encoding": {
                "x": {"field": "x", "type": "quantitative", "scale": {"domain": [6050, 6183], "nice": false, "zero": false}, "axis": {"orient": "bottom", "values": [6060, 6080, 6100, 6120, 6140, 6160, 6180], "labels": false, "title": null}},
                "y": {"field": "y", "type": "quantitative", "scale": {"domain": [-0.1, 1.72], "nice": false}, "axis": {"orient": "left", "values": [0, 0.5, 1, 1.5], "format": ".1f", "title": null}},
                "y2": {"datum": 0}
              }
            },
            {
              "mark": {"type": "rule", "color": "black", "strokeWidth": 1.8},
              "encoding": {"y": {"datum": 0, "type": "quantitative", "axis": null}}
            },
            {
              "transform": [{"filter": "datum.b != 'x'"}],
              "mark": {"type": "circle", "size": 42, "opacity": 1},
              "encoding": {
                "x": {"field": "x", "type": "quantitative", "axis": null},
                "y": {"field": "y", "type": "quantitative", "axis": null},
                "color": {
                  "field": "label", "type": "nominal",
                  "scale": {
                    "domain": ["ν₁ + ν₂ + ν₁₂", "ν₁ + 2ν₁₀ + ν₁₂", "ν₃ + ν₉ + 2ν₁₀", "ν₅ + ν₉", "ν₅ + 2ν₁₀ + ν₁₂", "ν₄ + 2ν₇ + ν₈ + ν₁₀ + ν₁₂", "ν₄ + ν₆ + ν₇ + ν₁₁", "ν₂ + ν₅ + ν₁₂", "ν₅ + ν₆ + ν₇ + ν₈"],
                    "range": ["#00ffff", "#ffa500", "#00fa9a", "#ff0000", "#ffff00", "#ffc0cb", "#d2691e", "#2e8b57", "#ff1493"]
                  },
                  "legend": {"orient": "top-left", "offset": 5, "columns": 3}
                }
              }
            },
            {
              "mark": {"type": "circle", "opacity": 0},
              "encoding": {
                "x": {"field": "x", "type": "quantitative", "axis": {"orient": "top", "values": [6060, 6080, 6100, 6120, 6140, 6160, 6180], "labels": false, "title": null}},
                "y": {"field": "y", "type": "quantitative", "axis": {"orient": "right", "values": [0, 0.5, 1, 1.5], "labels": false, "title": null}}
              }
            }
          ]
        },
        {
          "width": 1086,
          "height": 171,
          "title": {"text": "Calculated", "anchor": "end", "frame": "group", "offset": -40, "dx": -32, "fontSize": 21},
          "transform": [
            {"filter": "datum.p == 'bc'"},
            {"lookup": "b", "from": {"data": {"name": "bands"}, "key": "b", "fields": ["label"]}}
          ],
          "resolve": {"axis": {"x": "independent", "y": "independent"}},
          "layer": [
            {
              "mark": {"type": "rule", "color": "#aaaaaa", "strokeWidth": 2},
              "encoding": {
                "x": {"field": "x", "type": "quantitative", "scale": {"domain": [6050, 6183], "nice": false, "zero": false}, "axis": {"orient": "bottom", "values": [6060, 6080, 6100, 6120, 6140, 6160, 6180], "format": "d", "title": "Wavenumber (cm⁻¹)"}},
                "y": {"field": "y", "type": "quantitative", "scale": {"domain": [-0.1, 1.72], "nice": false}, "axis": {"orient": "left", "values": [0, 0.5, 1, 1.5], "format": ".1f", "title": null}},
                "y2": {"datum": 0}
              }
            },
            {
              "mark": {"type": "rule", "color": "black", "strokeWidth": 1.8},
              "encoding": {"y": {"datum": 0, "type": "quantitative", "axis": null}}
            },
            {
              "transform": [{"filter": "datum.b != 'x'"}],
              "mark": {"type": "circle", "size": 42, "opacity": 1},
              "encoding": {
                "x": {"field": "x", "type": "quantitative", "axis": null},
                "y": {"field": "y", "type": "quantitative", "axis": null},
                "color": {
                  "field": "label", "type": "nominal",
                  "scale": {
                    "domain": ["ν₁ + ν₂ + ν₁₂", "ν₁ + 2ν₁₀ + ν₁₂", "ν₃ + ν₉ + 2ν₁₀", "ν₅ + ν₉", "ν₅ + 2ν₁₀ + ν₁₂", "ν₄ + 2ν₇ + ν₈ + ν₁₀ + ν₁₂", "ν₄ + ν₆ + ν₇ + ν₁₁", "ν₂ + ν₅ + ν₁₂", "ν₅ + ν₆ + ν₇ + ν₈"],
                    "range": ["#00ffff", "#ffa500", "#00fa9a", "#ff0000", "#ffff00", "#ffc0cb", "#d2691e", "#2e8b57", "#ff1493"]
                  },
                  "legend": null
                }
              }
            },
            {
              "mark": {"type": "circle", "opacity": 0},
              "encoding": {
                "x": {"field": "x", "type": "quantitative", "axis": {"orient": "top", "values": [6060, 6080, 6100, 6120, 6140, 6160, 6180], "labels": false, "title": null}},
                "y": {"field": "y", "type": "quantitative", "axis": {"orient": "right", "values": [0, 0.5, 1, 1.5], "labels": false, "title": null}}
              }
            }
          ]
        }
      ]
    }
  ],
  "config": {
    "font": "DejaVu Sans",
    "view": {"stroke": "black", "strokeWidth": 1.8},
    "axis": {
      "domain": false,
      "grid": false,
      "ticks": true,
      "tickColor": "black",
      "tickWidth": 1.8,
      "tickSize": -9,
      "labelFont": "DejaVu Sans",
      "labelFontSize": 21,
      "labelColor": "black",
      "labelPadding": 17,
      "titleFont": "DejaVu Sans",
      "titleFontSize": 30,
      "titleFontWeight": "normal",
      "titleColor": "black",
      "titlePadding": 4
    },
    "axisY": {"labelPadding": 16},
    "title": {"font": "DejaVu Sans", "fontWeight": "normal", "color": "black", "subtitleFont": "DejaVu Sans", "subtitleColor": "black"},
    "legend": {
      "title": null,
      "symbolType": "circle",
      "symbolSize": 45,
      "symbolStrokeWidth": 0,
      "labelFont": "DejaVu Sans",
      "labelFontSize": 15,
      "labelColor": "black",
      "labelLimit": 400,
      "labelOffset": 24,
      "symbolOffset": 14,
      "columnPadding": 34,
      "rowPadding": 10,
      "padding": 10,
      "fillColor": "rgba(255,255,255,0.85)",
      "strokeColor": "#cccccc",
      "cornerRadius": 4,
      "gridAlign": "each"
    }
  }
}
